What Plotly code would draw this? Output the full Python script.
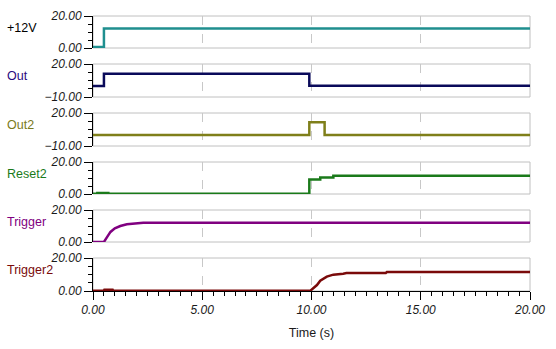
import plotly.graph_objects as go

# ---- data ----
names = ["+12V", "Out", "Out2", "Reset2", "Trigger", "Trigger2"]
line_colors = ["#1f8f8f", "#0a0a5a", "#7f7f1a", "#1a7a1a", "#800080", "#7a0a0a"]
label_colors = ["#000000", "#2a0a80", "#7a7a1a", "#1a7a1a", "#800080", "#7a0a0a"]
y_ranges = [(0, 20), (-10, 20), (-10, 20), (0, 20), (0, 20), (0, 20)]

t_12v = [0, 0.5, 20]
v_12v = [0.7, 12.2, 12.2]

t_out = [0, 0.5, 9.9, 20]
v_out = [0.0, 11.2, 0.2, 0.2]

t_out2 = [0, 9.9, 10.6, 20]
v_out2 = [0.0, 11.5, 0.0, 0.0]

t_reset2 = [0, 0.2, 0.7, 9.9, 10.4, 11.0, 20]
v_reset2 = [0.2, 0.6, 0.2, 9.0, 10.3, 11.4, 11.4]

t_trig = [0, 0.5, 0.65, 0.8, 1.0, 1.25, 1.55, 1.9, 2.3, 20]
v_trig = [0, 0, 3.2, 6.3, 8.5, 10.0, 11.1, 11.7, 12.1, 12.1]

t_trig2 = [0, 0.5, 0.52, 0.9, 0.92, 9.95, 10.25, 10.4, 10.7, 11.0, 11.45, 11.6, 13.4, 13.45, 20]
v_trig2 = [0.2, 0.2, 0.7, 0.7, 0.2, 0.2, 3.6, 6.2, 8.7, 9.9, 10.5, 10.9, 10.9, 11.5, 11.5]

series_t = [t_12v, t_out, t_out2, t_reset2, t_trig, t_trig2]
series_v = [v_12v, v_out, v_out2, v_reset2, v_trig, v_trig2]
shapes_line = ["hv", "hv", "hv", "hv", "linear", "linear"]

x_ticks_major = 5
x_ticks_minor = 0.5

# ---- layout geometry ----
W, H = 556, 349
x0, x1 = 93 / W, 530 / W
panel_px = [(16, 48), (64, 97), (113, 146), (162, 194), (210, 242), (258, 291)]

fig = go.Figure()
layout = dict(
    width=W, height=H, margin=dict(l=0, r=0, t=0, b=0, autoexpand=False),
    paper_bgcolor="white", plot_bgcolor="white", showlegend=False,
    shapes=[], annotations=[],
)
tickfont = dict(family="Liberation Sans, Arial", size=12, color="#1a1a1a", style="italic")

n = len(names)
for i in range(n):
    k = "" if i == 0 else str(i + 1)
    top, bot = panel_px[i]
    dom = [1 - bot / H, 1 - top / H]
    lo, hi = y_ranges[i]
    fig.add_trace(go.Scatter(
        x=series_t[i], y=series_v[i], mode="lines",
        line=dict(color=line_colors[i], width=2.5, shape=shapes_line[i]),
        xaxis="x" + k, yaxis="y" + k, hoverinfo="skip",
    ))
    last = i == n - 1
    xa = dict(
        domain=[x0, x1], anchor="y" + k, range=[0, 20], automargin=False,
        showgrid=True, gridcolor="#c8c8c8", griddash="dash", gridwidth=1,
        tickmode="linear", tick0=0, dtick=x_ticks_major,
        zeroline=False,
    )
    if last:
        xa.update(
            showline=True, linecolor="black", linewidth=1,
            ticks="outside", ticklen=8, tickcolor="black",
            tickformat=".2f", tickfont=tickfont, showticklabels=True,
            minor=dict(ticks="outside", ticklen=4, tickcolor="black",
                       tick0=0, dtick=x_ticks_minor, showgrid=False),
            title=dict(text="Time (s)", font=dict(family="Liberation Sans, Arial", size=12.5, color="#1a1a1a"), standoff=11),
        )
    else:
        xa.update(showline=False, ticks="", showticklabels=False)
    if i > 0:
        xa["matches"] = "x"
    layout["xaxis" + k] = xa
    minor_dt = 5 if (hi - lo) == 20 else 7.5
    layout["yaxis" + k] = dict(
        domain=dom, anchor="x" + k, range=[lo, hi], automargin=False,
        showline=True, linecolor="black", linewidth=1,
        ticks="outside", ticklen=8, tickcolor="black",
        tickmode="linear", tick0=lo, dtick=hi - lo,
        tickformat=".2f", tickfont=tickfont,
        showgrid=False, zeroline=False,
        minor=dict(ticks="outside", ticklen=4, tickcolor="black",
                   tick0=lo, dtick=minor_dt, showgrid=False),
    )
    layout["shapes"].append(dict(
        type="rect", xref="x" + k + " domain", yref="y" + k + " domain",
        x0=0, x1=1, y0=0, y1=1, line=dict(color="#c0c0c0", width=1), layer="below",
    ))
    layout["annotations"].append(dict(
        text=names[i], xref="paper", yref="paper",
        x=5 / W, y=1 - (top + 12) / H, xanchor="left", yanchor="middle",
        showarrow=False, font=dict(family="Liberation Sans, Arial", size=12.5, color=label_colors[i]),
    ))

fig.update_layout(**layout)
fig.write_html("out.html")
